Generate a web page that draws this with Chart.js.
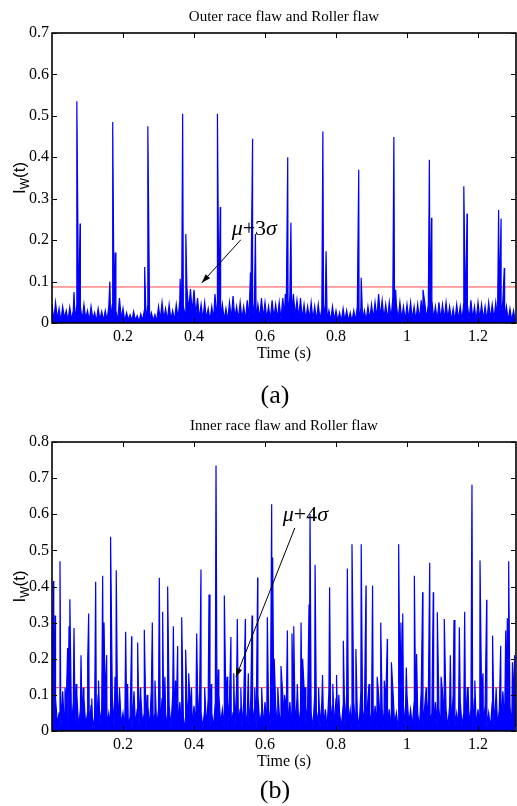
<!DOCTYPE html>
<html>
<head>
<meta charset="utf-8">
<script src="https://cdn.jsdelivr.net/npm/chart.js@4.4.1/dist/chart.umd.min.js"></script>
<style>
  body { margin: 0; background: #fff; }
  .panel { position: absolute; left: 0; }
  #panel-a { top: 0; }
  #panel-b { top: 410px; }
</style>
</head>
<body>
<div class="panel" id="panel-a"><canvas id="chart-a" width="517" height="410"></canvas></div>
<div class="panel" id="panel-b"><canvas id="chart-b" width="517" height="396"></canvas></div>
<script>
// --- DATA ---
const STEP = 0.005; // sampling step of the background noise (s)
const T_MAX = 1.307;
const X_TICKS = [0.2, 0.4, 0.6, 0.8, 1, 1.2];
const Y_TICKS_A = [0, 0.1, 0.2, 0.3, 0.4, 0.5, 0.6, 0.7];
const Y_TICKS_B = [0, 0.1, 0.2, 0.3, 0.4, 0.5, 0.6, 0.7, 0.8];

// panel (a): outer race + roller flaw
const noiseA = [
  .045,.006,.05,.01,.035,.004,.04,.012,.03,.005,
  .038,.008,.03,.006,.045,.01,.04,.006,.045,.01,
  .03,.005,.04,.01,.025,.004,.035,.008,.028,.006,
  .03,.006,.04,.01,.045,.008,.03,.005,.06,.01,
  .035,.004,.025,.008,.02,.005,.028,.006,.018,.004,
  .022,.006,.03,.004,.045,.01,.025,.006,.02,.005,
  .04,.008,.05,.01,.035,.006,.045,.008,.03,.006,
  .045,.01,.055,.012,.04,.02,.085,.03,.082,.025,
  .08,.02,.06,.01,.045,.008,.05,.01,.035,.006,
  .04,.008,.06,.012,.04,.01,.045,.008,.035,.006,
  .05,.01,.065,.012,.04,.008,.05,.01,.04,.006,
  .055,.012,.04,.01,.05,.008,.045,.01,.06,.012,
  .05,.01,.04,.008,.055,.012,.045,.01,.05,.008,
  .06,.015,.05,.012,.065,.02,.07,.018,.055,.012,
  .06,.01,.045,.008,.04,.01,.05,.008,.04,.006,
  .045,.008,.035,.01,.045,.008,.03,.006,.04,.008,
  .03,.006,.025,.004,.035,.006,.03,.005,.025,.004,
  .03,.006,.04,.008,.035,.006,.03,.005,.04,.008,
  .045,.01,.05,.012,.07,.015,.055,.01,.045,.008,
  .05,.01,.06,.012,.045,.008,.05,.01,.04,.006,
  .045,.008,.05,.01,.04,.006,.045,.008,.055,.01,
  .05,.01,.045,.008,.055,.01,.04,.006,.05,.008,
  .045,.008,.05,.01,.04,.006,.035,.006,.045,.008,
  .04,.006,.05,.01,.045,.008,.055,.01,.04,.006,
  .05,.01,.045,.008,.04,.006,.05,.01,.045,.008,
  .05,.01,.045,.008,.055,.01,.04,.006,.035,.006,
  .03,.005
];
const spikeTimesA = [
  0.062, 0.070, 0.079, 0.163, 0.171, 0.178, 0.261, 0.270,
  0.361, 0.368, 0.377, 0.459, 0.466, 0.474, 0.559, 0.565, 0.573,
  0.657, 0.664, 0.673, 0.763, 0.772, 0.864, 0.871, 0.963, 0.968,
  1.045, 1.063, 1.069, 1.160, 1.169, 1.258, 1.265, 1.274
];
const spikeHeightsA = [
  0.075, 0.535, 0.24, 0.10, 0.485, 0.17, 0.135, 0.475,
  0.107, 0.505, 0.215, 0.07, 0.505, 0.28, 0.122, 0.445, 0.215,
  0.07, 0.40, 0.242, 0.462, 0.173, 0.37, 0.109, 0.449, 0.08,
  0.08, 0.394, 0.254, 0.33, 0.264, 0.273, 0.252, 0.133
];
const thresholdA = 0.087; // mu + 3 sigma

// panel (b): inner race + roller flaw
const noiseB = [
  .06,.01,.09,.02,.05,.008,.11,.015,.07,.01,
  .05,.012,.08,.02,.1,.01,.06,.008,.09,.015,
  .05,.01,.07,.006,.04,.012,.1,.02,.06,.01,
  .08,.015,.05,.008,.09,.012,.06,.01,.11,.02,
  .05,.008,.07,.012,.04,.006,.09,.015,.06,.01,
  .1,.02,.05,.01,.07,.008,.12,.015,.05,.01,
  .06,.012,.09,.02,.05,.008,.07,.01,.1,.015,
  .05,.01,.08,.012,.04,.006,.09,.02,.06,.01,
  .07,.015,.11,.02,.05,.008,.06,.012,.09,.01,
  .05,.01,.08,.015,.1,.02,.06,.008,.07,.012,
  .09,.015,.05,.01,.12,.02,.06,.008,.08,.01,
  .05,.012,.09,.015,.06,.008,.1,.02,.05,.01,
  .08,.015,.06,.01,.11,.02,.07,.012,.05,.008,
  .1,.02,.06,.01,.08,.015,.05,.008,.09,.012,
  .06,.01,.12,.02,.07,.012,.05,.008,.1,.015,
  .05,.01,.08,.012,.06,.008,.11,.02,.07,.01,
  .09,.015,.05,.01,.07,.012,.1,.02,.06,.008,
  .08,.012,.05,.008,.11,.02,.06,.01,.09,.015,
  .05,.01,.07,.012,.1,.02,.06,.008,.08,.012,
  .06,.01,.12,.02,.05,.008,.09,.015,.07,.01,
  .1,.02,.06,.012,.08,.01,.05,.008,.11,.015,
  .07,.012,.09,.02,.05,.01,.08,.012,.06,.008,
  .11,.02,.06,.01,.07,.012,.1,.015,.05,.008,
  .08,.015,.05,.01,.12,.02,.06,.008,.09,.012,
  .06,.01,.1,.02,.07,.012,.05,.008,.08,.015,
  .09,.012,.06,.01,.11,.02,.05,.008,.07,.01,
  .08,.012
];
const spikeTimesB = [
  0.004, 0.009, 0.0225, 0.0366, 0.044, 0.048, 0.0507, 0.062, 0.068, 0.0817,
  0.088, 0.1005, 0.1033, 0.112, 0.123, 0.131, 0.1427, 0.1465, 0.154, 0.165,
  0.1775, 0.181, 0.19, 0.2075, 0.213, 0.2244, 0.231, 0.2413, 0.249, 0.26,
  0.268, 0.2826, 0.29, 0.3023, 0.3117, 0.318, 0.3258, 0.3418, 0.348, 0.354,
  0.3653, 0.3765, 0.385, 0.393, 0.4075, 0.4197, 0.43, 0.4423, 0.449, 0.462,
  0.4685, 0.4854, 0.493, 0.504, 0.512, 0.522, 0.532, 0.5446, 0.553, 0.5634,
  0.571, 0.5793, 0.5906, 0.6066, 0.6188, 0.6216, 0.626, 0.636, 0.645, 0.655,
  0.663, 0.676, 0.681, 0.691, 0.7015, 0.706, 0.713, 0.724, 0.7268, 0.741,
  0.751, 0.762, 0.782, 0.791, 0.8015, 0.808, 0.8206, 0.832, 0.845, 0.856,
  0.871, 0.8845, 0.893, 0.903, 0.916, 0.926, 0.936, 0.9446, 0.956, 0.9765,
  0.983, 0.988, 0.998, 1.0207, 1.027, 1.044, 1.054, 1.064, 1.074, 1.0854,
  1.096, 1.105, 1.122, 1.1324, 1.1474, 1.1624, 1.172, 1.183, 1.191, 1.2056,
  1.214, 1.2244, 1.241, 1.251, 1.2639, 1.278, 1.2826, 1.2863, 1.297, 1.303
];
const spikeHeightsB = [
  0.415, 0.32, 0.47, 0.12, 0.23, 0.29, 0.365, 0.285, 0.13, 0.21,
  0.12, 0.19, 0.325, 0.09, 0.413, 0.14, 0.43, 0.30, 0.21, 0.538,
  0.15, 0.445, 0.12, 0.275, 0.13, 0.262, 0.11, 0.245, 0.12, 0.28,
  0.10, 0.30, 0.14, 0.424, 0.33, 0.15, 0.40, 0.29, 0.14, 0.235,
  0.315, 0.225, 0.16, 0.12, 0.27, 0.447, 0.12, 0.378, 0.13, 0.735,
  0.17, 0.375, 0.15, 0.26, 0.16, 0.31, 0.12, 0.31, 0.16, 0.32,
  0.12, 0.425, 0.12, 0.315, 0.628, 0.48, 0.20, 0.12, 0.18, 0.10,
  0.278, 0.27, 0.29, 0.13, 0.30, 0.20, 0.12, 0.35, 0.60, 0.46,
  0.12, 0.155, 0.398, 0.13, 0.155, 0.10, 0.25, 0.45, 0.517, 0.227,
  0.517, 0.403, 0.13, 0.403, 0.15, 0.30, 0.14, 0.255, 0.19, 0.517,
  0.30, 0.325, 0.176, 0.43, 0.213, 0.384, 0.12, 0.466, 0.384, 0.329,
  0.15, 0.31, 0.21, 0.307, 0.287, 0.33, 0.12, 0.682, 0.14, 0.472,
  0.16, 0.363, 0.264, 0.12, 0.236, 0.278, 0.312, 0.47, 0.19, 0.21
];
const thresholdB = 0.12; // mu + 4 sigma

// --- STYLE ---
const SERIF = "'Liberation Serif', 'Times New Roman', serif";
const SANS = "'Liberation Sans', Arial, sans-serif";
Chart.defaults.font.family = SERIF;
Chart.defaults.color = "#000";

// --- HELPERS ---
function buildSignal(noise, spikeT, spikeH) {
  // merge the noise samples and the impulse peaks into one time-ordered trace
  const pts = noise.map((v, i) => ({ x: i * STEP, y: v }));
  spikeT.forEach((t, i) => pts.push({ x: t, y: spikeH[i] }));
  return pts.sort((p, q) => p.x - q.x);
}

function drawArrow(ctx, x0, y0, x1, y1) {
  ctx.beginPath();
  ctx.moveTo(x0, y0);
  ctx.lineTo(x1, y1);
  ctx.stroke();
  const ang = Math.atan2(y1 - y0, x1 - x0);
  const len = 9, half = 3;
  ctx.beginPath();
  ctx.moveTo(x1, y1);
  ctx.lineTo(x1 - len * Math.cos(ang) + half * Math.sin(ang), y1 - len * Math.sin(ang) - half * Math.cos(ang));
  ctx.lineTo(x1 - len * Math.cos(ang) - half * Math.sin(ang), y1 - len * Math.sin(ang) + half * Math.cos(ang));
  ctx.closePath();
  ctx.fill();
}

function drawPieces(ctx, pieces, x, y) {
  // draw text pieces one after another on a shared baseline
  pieces.forEach(p => {
    ctx.font = p.font;
    ctx.fillText(p.text, x, y + (p.dy || 0));
    x += ctx.measureText(p.text).width;
  });
}

function piecesWidth(ctx, pieces) {
  return pieces.reduce((w, p) => { ctx.font = p.font; return w + ctx.measureText(p.text).width; }, 0);
}

// --- FIGURE DECORATION (frame, inward ticks, labels, annotation) ---
const decorPlugin = {
  id: "decor",
  afterDatasetsDraw(chart, args, o) {
    const { ctx, chartArea: a, scales: { x, y } } = chart;
    const midX = (a.left + a.right) / 2;
    ctx.save();
    ctx.fillStyle = "#000";
    ctx.strokeStyle = "#000";

    // inward ticks on all four sides
    ctx.lineWidth = 1;
    ctx.beginPath();
    x.ticks.forEach(t => {
      const px = Math.round(x.getPixelForValue(t.value)) + 0.5;
      ctx.moveTo(px, a.bottom); ctx.lineTo(px, a.bottom - 5);
      ctx.moveTo(px, a.top); ctx.lineTo(px, a.top + 5);
    });
    y.ticks.forEach(t => {
      const py = Math.round(y.getPixelForValue(t.value)) + 0.5;
      ctx.moveTo(a.left, py); ctx.lineTo(a.left + 5, py);
      ctx.moveTo(a.right, py); ctx.lineTo(a.right - 5, py);
    });
    ctx.stroke();

    // box
    ctx.lineWidth = 1.6;
    ctx.strokeRect(a.left, a.top, a.right - a.left, a.bottom - a.top);

    // title, x title, panel letter
    ctx.textAlign = "center";
    ctx.textBaseline = "alphabetic";
    ctx.font = "15px " + SERIF;
    ctx.fillText(o.title, midX, o.titleY);
    ctx.font = "16px " + SERIF;
    ctx.fillText("Time (s)", midX, o.xTitleY);
    ctx.font = "26px " + SERIF;
    ctx.fillText(o.letter, 275, o.letterY);

    // y title  I_W(t), rotated
    const yPieces = [
      { text: "I", font: "17px " + SANS },
      { text: "W", font: "12px " + SANS, dy: 4 },
      { text: "(t)", font: "17px " + SANS }
    ];
    ctx.textAlign = "left";
    ctx.save();
    ctx.translate(25, (a.top + a.bottom) / 2);
    ctx.rotate(-Math.PI / 2);
    drawPieces(ctx, yPieces, -piecesWidth(ctx, yPieces) / 2, 0);
    ctx.restore();

    // annotation text and arrow
    const n = o.note;
    const notePieces = [
      { text: "\u03bc", font: "italic 22px " + SERIF },
      { text: "+" + n.k, font: "22px " + SERIF },
      { text: "\u03c3", font: "italic 22px " + SERIF }
    ];
    drawPieces(ctx, notePieces, x.getPixelForValue(n.textAt[0]), y.getPixelForValue(n.textAt[1]));
    ctx.lineWidth = 1;
    drawArrow(ctx,
      x.getPixelForValue(n.from[0]), y.getPixelForValue(n.from[1]),
      x.getPixelForValue(n.to[0]), y.getPixelForValue(n.to[1]));
    ctx.restore();
  }
};

// --- CHART BUILDER ---
function makeChart(id, signal, threshold, yTicks, yMax, plotTop, xBand, decor) {
  return new Chart(document.getElementById(id), {
    type: "line",
    data: {
      datasets: [
        {
          data: signal, borderColor: "#0000ff", backgroundColor: "#0000ff",
          borderWidth: 1.2, pointRadius: 0, fill: "origin", order: 1
        },
        {
          data: [{ x: 0, y: threshold }, { x: T_MAX, y: threshold }],
          borderColor: "rgba(255,40,40,0.85)", borderWidth: 1, pointRadius: 0, order: 2
        }
      ]
    },
    options: {
      responsive: false,
      animation: false,
      layout: { padding: { top: plotTop, left: 0, right: 1, bottom: 0 } },
      plugins: { legend: { display: false }, tooltip: { enabled: false }, filler: { drawTime: "beforeDatasetDraw" }, decor },
      scales: {
        x: {
          type: "linear", min: 0, max: T_MAX,
          afterBuildTicks: s => { s.ticks = X_TICKS.map(v => ({ value: v })); },
          afterFit: s => { s.height = xBand; },
          grid: { display: false, drawTicks: false },
          border: { display: false },
          ticks: { font: { size: 16 }, padding: 4, maxRotation: 0, callback: v => String(v) }
        },
        y: {
          min: 0, max: yMax,
          afterBuildTicks: s => { s.ticks = yTicks.map(v => ({ value: v })); },
          afterFit: s => { s.width = 52; },
          grid: { display: false, drawTicks: false },
          border: { display: false },
          ticks: { font: { size: 16 }, padding: 3, callback: v => String(v) }
        }
      }
    },
    plugins: [decorPlugin]
  });
}

// --- INITIAL SETUP ---
makeChart("chart-a", buildSignal(noiseA, spikeTimesA, spikeHeightsA), thresholdA, Y_TICKS_A, 0.7, 33, 87, {
  title: "Outer race flaw and Roller flaw", titleY: 21, xTitleY: 358, letter: "(a)", letterY: 403,
  note: { k: 3, textAt: [0.506, 0.213], from: [0.532, 0.201], to: [0.422, 0.097] }
});
makeChart("chart-b", buildSignal(noiseB, spikeTimesB, spikeHeightsB), thresholdB, Y_TICKS_B, 0.8, 32, 75, {
  title: "Inner race flaw and Roller flaw", titleY: 20, xTitleY: 356, letter: "(b)", letterY: 388,
  note: { k: 4, textAt: [0.650, 0.581], from: [0.684, 0.562], to: [0.518, 0.149] }
});
</script>
</body>
</html>
